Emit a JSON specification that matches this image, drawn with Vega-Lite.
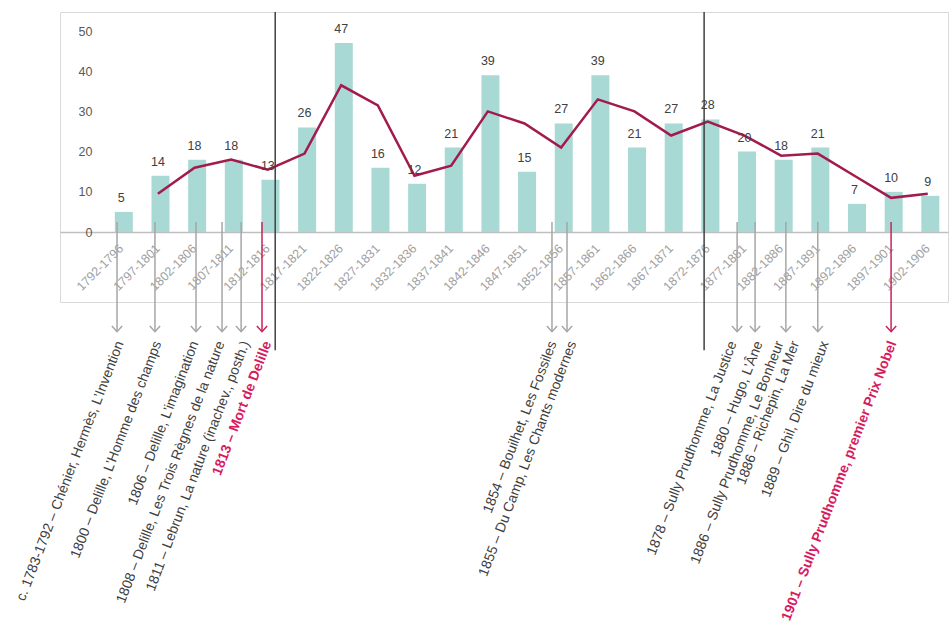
{
  "$schema": "https://vega.github.io/schema/vega-lite/v6.json",
  "width": 888,
  "height": 290,
  "autosize": {"type": "none"},
  "padding": {"left": 60, "top": 12, "right": 4, "bottom": 323},
  "background": "white",
  "config": {"font": "Liberation Sans", "view": {"stroke": "#d9d9d9", "strokeWidth": 1}},
  "datasets": {
    "periods": [
      {"period": "1792-1796", "count": 5, "avg": null},
      {"period": "1797-1801", "count": 14, "avg": 9.5},
      {"period": "1802-1806", "count": 18, "avg": 16},
      {"period": "1807-1811", "count": 18, "avg": 18},
      {"period": "1812-1816", "count": 13, "avg": 15.5},
      {"period": "1817-1821", "count": 26, "avg": 19.5},
      {"period": "1822-1826", "count": 47, "avg": 36.5},
      {"period": "1827-1831", "count": 16, "avg": 31.5},
      {"period": "1832-1836", "count": 12, "avg": 14},
      {"period": "1837-1841", "count": 21, "avg": 16.5},
      {"period": "1842-1846", "count": 39, "avg": 30},
      {"period": "1847-1851", "count": 15, "avg": 27},
      {"period": "1852-1856", "count": 27, "avg": 21},
      {"period": "1857-1861", "count": 39, "avg": 33},
      {"period": "1862-1866", "count": 21, "avg": 30},
      {"period": "1867-1871", "count": 27, "avg": 24},
      {"period": "1872-1876", "count": 28, "avg": 27.5},
      {"period": "1877-1881", "count": 20, "avg": 24},
      {"period": "1882-1886", "count": 18, "avg": 19},
      {"period": "1887-1891", "count": 21, "avg": 19.5},
      {"period": "1892-1896", "count": 7, "avg": 14},
      {"period": "1897-1901", "count": 10, "avg": 8.5},
      {"period": "1902-1906", "count": 9, "avg": 9.5}
    ],
    "arrows": [
      {"period": "1792-1796", "within": 0.385, "hl": false},
      {"period": "1797-1801", "within": 0.42, "hl": false},
      {"period": "1802-1806", "within": 0.54, "hl": false},
      {"period": "1807-1811", "within": 0.25, "hl": false},
      {"period": "1807-1811", "within": 0.77, "hl": false},
      {"period": "1812-1816", "within": 0.34, "hl": true},
      {"period": "1852-1856", "within": 0.25, "hl": false},
      {"period": "1852-1856", "within": 0.66, "hl": false},
      {"period": "1877-1881", "within": 0.3, "hl": false},
      {"period": "1877-1881", "within": 0.79, "hl": false},
      {"period": "1882-1886", "within": 0.63, "hl": false},
      {"period": "1887-1891", "within": 0.5, "hl": false},
      {"period": "1897-1901", "within": 0.5, "hl": true}
    ],
    "events": [
      {"period": "1792-1796", "within": 0.47, "hl": false, "label": "c. 1783-1792 – Chénier, Hermès, L’Invention"},
      {"period": "1797-1801", "within": 0.5, "hl": false, "label": "1800 – Delille, L’Homme des champs"},
      {"period": "1802-1806", "within": 0.51, "hl": false, "label": "1806 – Delille, L’imagination"},
      {"period": "1807-1811", "within": 0.22, "hl": false, "label": "1808 – Delille, Les Trois Règnes de la nature"},
      {"period": "1807-1811", "within": 0.9, "hl": false, "label": "1811 – Lebrun, La nature (inachev., posth.)"},
      {"period": "1812-1816", "within": 0.5, "hl": true, "label": "1813 – Mort de Delille"},
      {"period": "1852-1856", "within": 0.28, "hl": false, "label": "1854 – Bouilhet, Les Fossiles"},
      {"period": "1852-1856", "within": 0.82, "hl": false, "label": "1855 – Du Camp, Les Chants modernes"},
      {"period": "1877-1881", "within": 0.19, "hl": false, "label": "1878 – Sully Prudhomme, La Justice"},
      {"period": "1877-1881", "within": 0.9, "hl": false, "label": "1880 – Hugo, L’Âne"},
      {"period": "1882-1886", "within": 0.47, "hl": false, "label": "1886 – Sully Prudhomme, Le Bonheur"},
      {"period": "1882-1886", "within": 0.9, "hl": false, "label": "1886 – Richepin, La Mer"},
      {"period": "1887-1891", "within": 0.7, "hl": false, "label": "1889 – Ghil, Dire du mieux"},
      {"period": "1897-1901", "within": 0.55, "hl": true, "label": "1901 – Sully Prudhomme, premier Prix Nobel"}
    ],
    "markers": [
      {"period": "1812-1816", "within": 0.7},
      {"period": "1872-1876", "within": 0.4}
    ]
  },
  "encoding": {
    "x": {
      "field": "period",
      "type": "nominal",
      "title": null,
      "scale": {"paddingInner": 0, "paddingOuter": 0.6115, "align": 0.957},
      "axis": {
        "labelAngle": -45,
        "labelAlign": "right",
        "labelBaseline": "middle",
        "labelPadding": 14,
        "ticks": false,
        "tickSize": 0,
        "domainColor": "#bfbfbf",
        "domainWidth": 1.5,
        "labelColor": "#a0a0a0",
        "labelFontSize": 12.5,
        "labelOverlap": false,
        "offset": -70,
        "grid": false
      }
    }
  },
  "layer": [
    {
      "data": {"name": "periods"},
      "mark": {"type": "bar", "color": "#a9d9d4", "width": {"band": 0.35}},
      "encoding": {
        "y": {
          "field": "count",
          "type": "quantitative",
          "title": null,
          "scale": {"domain": [-17.41, 54.73], "nice": false, "zero": false},
          "axis": {
            "values": [0, 5, 10, 15, 20, 25, 30, 35, 40, 45, 50],
            "domain": false,
            "ticks": false,
            "tickSize": 0,
            "labelPadding": 2,
            "offset": -34,
            "labelColor": "#595959",
            "labelFontSize": 12.5,
            "grid": false
          }
        }
      }
    },
    {
      "data": {"name": "arrows"},
      "mark": {"type": "rule", "strokeWidth": 1.5},
      "encoding": {
        "xOffset": {"field": "within", "type": "quantitative", "scale": {"domain": [0, 1]}},
        "y": {"datum": 2.5},
        "y2": {"datum": -24.8},
        "color": {"condition": {"test": "datum.hl", "value": "#c8235a"}, "value": "#a6a6a6"}
      }
    },
    {
      "data": {"name": "periods"},
      "mark": {"type": "line", "color": "#a31a4d", "strokeWidth": 2.5},
      "encoding": {
        "y": {"field": "avg", "type": "quantitative"}
      }
    },
    {
      "data": {"name": "periods"},
      "mark": {"type": "text", "baseline": "alphabetic", "dy": -10, "fontSize": 12.5, "color": "#404040"},
      "encoding": {
        "y": {"field": "count", "type": "quantitative"},
        "text": {"field": "count", "type": "quantitative"}
      }
    },
    {
      "data": {"name": "markers"},
      "mark": {"type": "rule", "strokeWidth": 1.5, "color": "#404040"},
      "encoding": {
        "xOffset": {"field": "within", "type": "quantitative", "scale": {"domain": [0, 1]}},
        "y": {"datum": 54.73},
        "y2": {"datum": -29.4}
      }
    },
    {
      "data": {"name": "arrows"},
      "mark": {"type": "point", "shape": "M-0.9,-1L0,0L0.9,-1", "filled": false, "size": 130, "strokeWidth": 1.5, "opacity": 1},
      "encoding": {
        "xOffset": {"field": "within", "type": "quantitative", "scale": {"domain": [0, 1]}},
        "y": {"datum": -24.8},
        "color": {"condition": {"test": "datum.hl", "value": "#c8235a"}, "value": "#a6a6a6"}
      }
    },
    {
      "data": {"name": "events"},
      "transform": [{"filter": "!datum.hl"}],
      "mark": {"type": "text", "angle": 291, "align": "right", "baseline": "middle", "fontSize": 14, "color": "#404040"},
      "encoding": {
        "xOffset": {"field": "within", "type": "quantitative", "scale": {"domain": [0, 1]}},
        "y": {"datum": -27.3},
        "text": {"field": "label", "type": "nominal"}
      }
    },
    {
      "data": {"name": "events"},
      "transform": [{"filter": "datum.hl"}],
      "mark": {"type": "text", "angle": 291, "align": "right", "baseline": "middle", "fontSize": 14, "fontWeight": "bold", "color": "#d81b60"},
      "encoding": {
        "xOffset": {"field": "within", "type": "quantitative", "scale": {"domain": [0, 1]}},
        "y": {"datum": -27.3},
        "text": {"field": "label", "type": "nominal"}
      }
    }
  ]
}
